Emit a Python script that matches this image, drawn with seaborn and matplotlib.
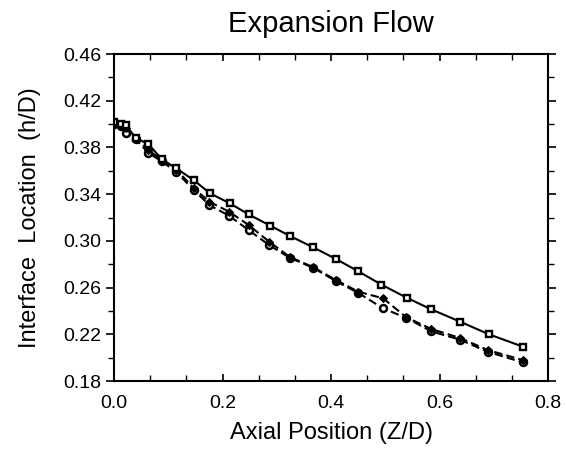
import numpy as np
import pandas as pd
import matplotlib
matplotlib.use("Agg")
import matplotlib.pyplot as plt
from matplotlib.ticker import MultipleLocator, FixedLocator
import seaborn as sns

# ---- data ----
x_square = [0.0, 0.012, 0.022, 0.040, 0.063, 0.088, 0.115, 0.147, 0.177, 0.214, 0.248,
            0.288, 0.325, 0.367, 0.409, 0.450, 0.493, 0.540, 0.584, 0.638, 0.691, 0.753]
y_square = [0.402, 0.400, 0.399, 0.388, 0.383, 0.370, 0.362, 0.352, 0.3407, 0.332, 0.3227,
            0.313, 0.304, 0.2945, 0.2845, 0.274, 0.2625, 0.2512, 0.2415, 0.2308, 0.220, 0.2095]

x_dashed = [0.0, 0.012, 0.022, 0.040, 0.063, 0.088, 0.115, 0.147, 0.176, 0.212, 0.248,
            0.286, 0.324, 0.367, 0.409, 0.450, 0.496, 0.539, 0.585, 0.637, 0.689, 0.753]
y_diamond = [0.401, 0.399, 0.397, 0.388, 0.378, 0.369, 0.361, 0.345, 0.3335, 0.325, 0.3136,
             0.2993, 0.2862, 0.2775, 0.2665, 0.2565, 0.2508, 0.2345, 0.2245, 0.2170, 0.2065, 0.198]
y_circle = [0.400, 0.398, 0.392, 0.387, 0.3755, 0.368, 0.359, 0.3435, 0.3306, 0.3215, 0.3093,
            0.2964, 0.2855, 0.277, 0.2655, 0.2555, 0.2422, 0.2340, 0.2225, 0.2155, 0.2050, 0.196]

title = "Expansion Flow"
xlabel = "Axial Position (Z/D)"
ylabel = "Interface  Location  (h/D)"
x_ticks = [0.0, 0.2, 0.4, 0.6, 0.8]
y_ticks = [0.18, 0.22, 0.26, 0.30, 0.34, 0.38, 0.42, 0.46]

sns.set_theme(style="ticks")
plt.rcParams['font.family'] = ['Liberation Sans', 'DejaVu Sans']
for k in ("text.color", "axes.labelcolor", "xtick.color", "ytick.color", "axes.edgecolor"):
    plt.rcParams[k] = "black"

fig = plt.figure(figsize=(5.66, 4.49), dpi=100)
ax = fig.add_axes([114 / 566, 1 - 381 / 449, (548 - 114) / 566, (381 - 54) / 449])

sns.lineplot(x=x_dashed, y=y_circle, ax=ax, sort=False, color="black", linestyle=(0, (4, 2)),
             linewidth=1.5, marker="o", markersize=5, markerfacecolor="white",
             markeredgecolor="black", markeredgewidth=1.8)
sns.lineplot(x=x_dashed, y=y_diamond, ax=ax, sort=False, color="black", linestyle=(0, (4, 2)),
             linewidth=1.5, marker="D", markersize=4.5, markerfacecolor="black",
             markeredgecolor="black")
sns.lineplot(x=x_square, y=y_square, ax=ax, sort=False, color="black", linestyle="-",
             linewidth=1.5, marker="s", markersize=5, markerfacecolor="white",
             markeredgecolor="black", markeredgewidth=1.7)

ax.set_xlim(0.0, 0.8)
ax.set_ylim(0.18, 0.46)
ax.xaxis.set_major_locator(FixedLocator(x_ticks))
ax.xaxis.set_minor_locator(MultipleLocator(0.2 / 3))
ax.yaxis.set_major_locator(FixedLocator(y_ticks))
ax.yaxis.set_minor_locator(MultipleLocator(0.02))
ax.set_xticklabels([f"{v:.1f}" for v in x_ticks])
ax.set_yticklabels([f"{v:.2f}" for v in y_ticks])

ax.tick_params(axis="x", which="major", direction="in", length=5, width=1.2,
               labelsize=14, pad=10, top=True)
ax.tick_params(axis="x", which="minor", direction="in", length=4, width=1.0, top=True)
ax.tick_params(axis="y", which="major", direction="out", length=6, width=1.2,
               labelsize=14, pad=3, right=True)
ax.tick_params(axis="y", which="minor", direction="out", length=4, width=1.0, right=True)

for s in ax.spines.values():
    s.set_linewidth(1.5)
    s.set_color("black")

ax.set_title(title, fontsize=21, pad=16)
ax.set_xlabel(xlabel, fontsize=17, labelpad=7)
ax.set_ylabel(ylabel, fontsize=17, labelpad=16)

fig.savefig("out.png", dpi=100)
